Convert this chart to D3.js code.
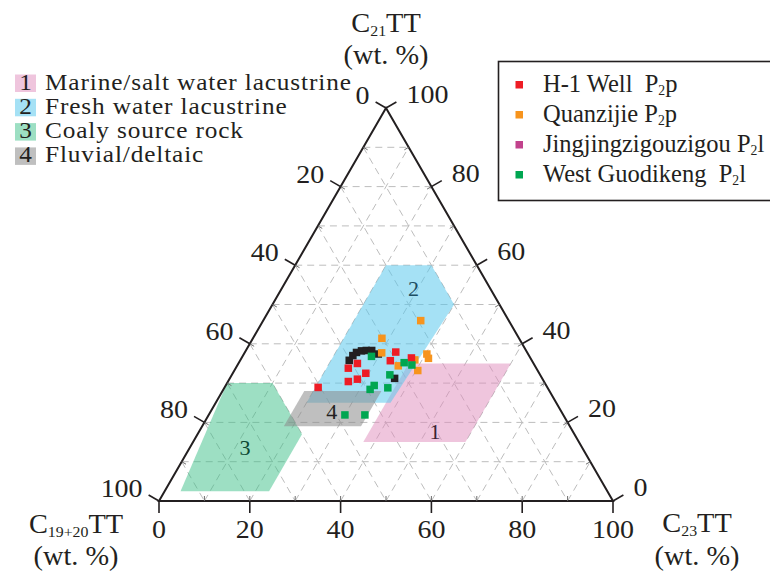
<!DOCTYPE html>
<html>
<head>
<meta charset="utf-8">
<script src="https://cdn.jsdelivr.net/npm/d3@7"></script>
<style>
  body { margin: 0; background: #fff; }
  svg text { font-family: "Liberation Serif", "Times New Roman", serif; fill: #231f20; white-space: pre; }
</style>
</head>
<body>
<div id="chart"></div>
<script>
// every composition is [C19+20TT, C21TT, C23TT] in wt.%
const axisTicks = [0, 20, 40, 60, 80, 100];
const gridValues = [10, 20, 30, 40, 50, 60, 70, 80, 90];
const axisTitles = ['C_{19+20}TT', 'C_{21}TT', 'C_{23}TT'];

const h1Well = [
  [50.5, 28.9, 20.6], [41.4, 33.8, 24.8], [38.8, 35.0, 26.2], [43.1, 30.4, 26.5],
  [40.8, 31.0, 28.2], [38.2, 32.5, 29.3], [28.9, 37.9, 33.2], [31.2, 35.7, 33.1],
  [26.2, 36.4, 37.4]
];
const quanzijie = [
  [19.4, 45.9, 34.7], [30.2, 41.4, 28.4], [32.1, 37.7, 30.2], [22.3, 37.4, 40.3],
  [22.5, 36.3, 41.2], [30.1, 34.4, 35.5], [25.7, 35.9, 38.4], [26.4, 33.2, 40.4]
];
const jingjing = [
  [40.2, 35.8, 24.0], [38.8, 37.0, 24.2], [37.6, 37.8, 24.6], [36.3, 38.2, 25.5],
  [35.2, 38.3, 26.5], [34.0, 38.3, 27.7], [33.0, 37.4, 29.6], [32.5, 31.2, 36.3]
];
const westGuodikeng = [
  [48.1, 21.9, 30.0], [43.7, 21.9, 34.4], [39.3, 28.4, 32.3], [37.9, 29.4, 32.7],
  [35.2, 28.8, 36.0], [33.1, 32.1, 34.8], [34.8, 36.8, 28.4], [28.4, 35.2, 36.4],
  [27.0, 34.6, 38.4]
];
const seriesNames = ['H-1 Well  P_{2}p', 'Quanzijie P_{2}p', 'Jingjingzigouzigou P_{2}l', 'West Guodikeng  P_{2}l'];

// source-rock fields
const regionMarine = [[27.5, 35, 37.5], [5, 35, 60], [25, 15, 60], [47.5, 15, 37.5]];
const regionFresh = [[20, 60, 20], [10, 60, 30], [10, 50, 40], [36.5, 25, 38.5], [55, 25, 20]];
const regionCoaly = [[70, 30, 0], [60, 30, 10], [60, 17, 23], [74.5, 2.5, 23], [94, 2.5, 3.5]];
const regionFluvial = [[54, 28, 18], [37, 28, 35], [46, 19, 35], [63, 19, 18]];
const regionNames = ['Marine/salt water lacustrine', 'Fresh water lacustrine', 'Coaly source rock', 'Fluvial/deltaic'];
const regionLabelAt = [[30.4, 17.6, 52.0], [17.0, 53.9, 29.1], [74.3, 13.5, 12.2], [50.6, 22.7, 26.7]];

const W = 770, H = 572;
const svg = d3.select('#chart').append('svg')
    .attr('width', W)
    .attr('height', H);

const x = d3.scaleLinear().domain([0, 100]).range([159, 613]);
const y = d3.scaleLinear().domain([0, 100]).range([501, 108]);
const proj = d => [x(d[2] + d[1] / 2), y(d[1])];
const line = d3.line();

// text with _{..} subscripts, optionally stretched sideways
function addText(parent, px, py, str, o) {
  const t = parent.append('text')
      .attr('transform', `translate(${px},${py}) scale(${o.sx || 1},1)`)
      .attr('text-anchor', o.anchor || 'start')
      .style('font-size', o.size + 'px');
  if (o.fill) t.style('fill', o.fill);
  if (o.ls) t.style('letter-spacing', o.ls + 'px');
  const shift = o.size * 0.16;
  let down = false;
  str.split(/(_\{[^}]*\})/).filter(s => s.length).forEach(s => {
    if (s.startsWith('_{')) {
      t.append('tspan').attr('dy', shift).style('font-size', (o.size * 0.56) + 'px').text(s.slice(2, -1));
      down = true;
    } else {
      const sp = t.append('tspan').text(s);
      if (down) { sp.attr('dy', -shift); down = false; }
    }
  });
  return t;
}

// grid
const grid = svg.append('g')
    .attr('fill', 'none')
    .attr('stroke', '#bdbdbd')
    .attr('stroke-width', 1)
    .attr('stroke-dasharray', '7,5');
gridValues.forEach(v => {
  grid.append('path').attr('d', line([proj([100 - v, v, 0]), proj([0, v, 100 - v])]));
  grid.append('path').attr('d', line([proj([100 - v, 0, v]), proj([0, 100 - v, v])]));
  grid.append('path').attr('d', line([proj([v, 100 - v, 0]), proj([v, 0, 100 - v])]));
});

// fields
const regionFill = ['#e08cbc', '#5bc8ec', '#3cbf88', '#8a8a8a'];
const regionOpacity = [0.5, 0.55, 0.5, 0.55];
const regionText = ['#3b2232', '#1d4e63', '#0d4a33', '#231f20'];
const regions = [regionMarine, regionFresh, regionCoaly, regionFluvial];

svg.append('g').selectAll('path')
    .data(regions)
  .join('path')
    .attr('d', d => line(d.map(proj)) + 'Z')
    .attr('fill', (d, i) => regionFill[i])
    .attr('fill-opacity', (d, i) => regionOpacity[i]);

const rl = svg.append('g');
regionLabelAt.forEach((d, i) => {
  const p = proj(d);
  addText(rl, p[0], p[1] + 7, String(i + 1), {size: 21, anchor: 'middle', fill: regionText[i], sx: 1.05});
});

// axes
const axes = [
  {pt: v => [100 - v, 0, v], dir: [0, 1]},          // C23 along bottom
  {pt: v => [v, 100 - v, 0], dir: [-0.866, -0.5]},  // C19+20 along left
  {pt: v => [0, v, 100 - v], dir: [0.866, -0.5]}    // C21 along right
];

const axisG = svg.append('g');
axisG.append('path')
    .attr('d', line([proj([100, 0, 0]), proj([0, 0, 100]), proj([0, 100, 0])]) + 'Z')
    .attr('fill', 'none')
    .attr('stroke', '#231f20')
    .attr('stroke-width', 2)
    .attr('stroke-linejoin', 'miter');

axes.forEach((a, k) => {
  gridValues.forEach(v => {
    const p = proj(a.pt(v));
    axisG.append('line')
        .attr('x1', p[0]).attr('y1', p[1])
        .attr('x2', p[0] - a.dir[0] * 5).attr('y2', p[1] - a.dir[1] * 5)
        .attr('stroke', '#6d6d6d').attr('stroke-width', 1);
  });
  axisTicks.forEach(v => {
    const p = proj(a.pt(v));
    const e = [p[0] + a.dir[0] * 12, p[1] + a.dir[1] * 12];
    axisG.append('line')
        .attr('x1', p[0]).attr('y1', p[1])
        .attr('x2', e[0]).attr('y2', e[1])
        .attr('stroke', '#231f20').attr('stroke-width', 1.6);
    if (k === 0) addText(axisG, e[0], e[1] + 25, String(v), {size: 25, anchor: 'middle', sx: 1.12});
    if (k === 1) addText(axisG, e[0] - 6, e[1] + 2, String(v), {size: 25, anchor: 'end', sx: 1.12});
    if (k === 2) addText(axisG, e[0] + 10, e[1] + 1, String(v), {size: 25, anchor: 'start', sx: 1.12});
  });
});

// axis titles
addText(axisG, 386, 32, axisTitles[1], {size: 27, anchor: 'middle', sx: 1.05});
addText(axisG, 386, 64, '(wt. %)', {size: 27, anchor: 'middle', sx: 1.05});
addText(axisG, 76, 533, axisTitles[0], {size: 27, anchor: 'middle', sx: 1.05});
addText(axisG, 76, 565, '(wt. %)', {size: 27, anchor: 'middle', sx: 1.05});
addText(axisG, 697, 532, axisTitles[2], {size: 27, anchor: 'middle', sx: 1.05});
addText(axisG, 697, 565, '(wt. %)', {size: 27, anchor: 'middle', sx: 1.05});

// samples
const seriesData = [jingjing, quanzijie, h1Well, westGuodikeng];
const pointColor = ['#231f20', '#f7941d', '#ee1c25', '#00a651'];
const ms = 7.5;
seriesData.forEach((data, i) => {
  svg.append('g').selectAll('rect')
      .data(data)
    .join('rect')
      .attr('x', d => proj(d)[0] - ms / 2)
      .attr('y', d => proj(d)[1] - ms / 2)
      .attr('width', ms)
      .attr('height', ms)
      .attr('fill', pointColor[i]);
});

// field legend (left)
const lg = svg.append('g');
regionNames.forEach((name, i) => {
  const base = 89.5 + i * 24.3;
  lg.append('rect')
      .attr('x', 15).attr('y', base - 15)
      .attr('width', 21).attr('height', 17.5)
      .attr('fill', regionFill[i])
      .attr('fill-opacity', regionOpacity[i]);
  addText(lg, 25.5, base, String(i + 1), {size: 23, anchor: 'middle', sx: 1.1});
  addText(lg, 45, base, name, {size: 23, sx: 1.1, ls: 0.8});
});

// sample legend (right)
const legendColor = ['#ee1c25', '#f7941d', '#c1428c', '#00a651'];
const sg = svg.append('g');
sg.append('rect')
    .attr('x', 498.5).attr('y', 61.5)
    .attr('width', 300).attr('height', 139)
    .attr('fill', 'none')
    .attr('stroke', '#231f20')
    .attr('stroke-width', 1.6);
seriesNames.forEach((name, i) => {
  const base = 91.5 + i * 30;
  sg.append('rect')
      .attr('x', 515.5).attr('y', base - 10.5)
      .attr('width', 7.5).attr('height', 7.5)
      .attr('fill', legendColor[i]);
  addText(sg, 543, base, name, {size: 24.5, sx: 1.0});
});
</script>
</body>
</html>
